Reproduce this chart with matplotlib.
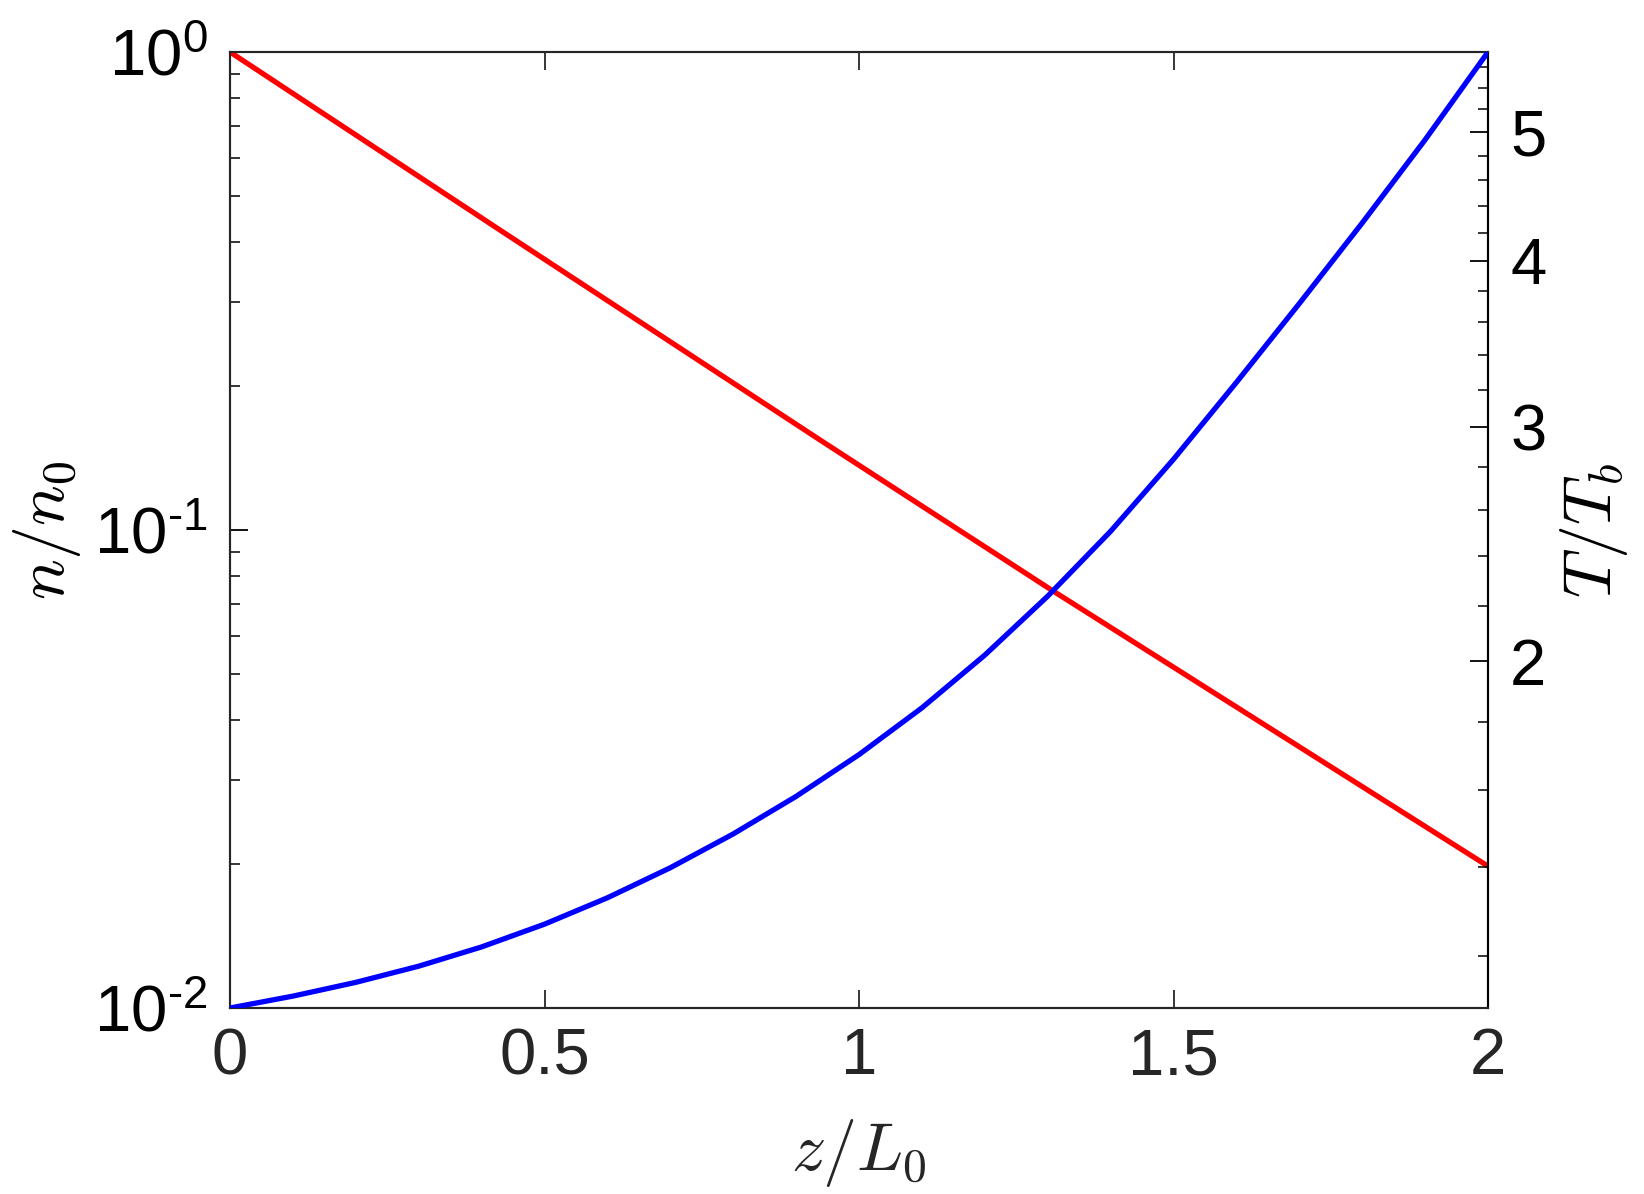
import numpy as np
import matplotlib
matplotlib.use("Agg")
import matplotlib.pyplot as plt
from matplotlib.ticker import FixedLocator, FuncFormatter, MultipleLocator, NullFormatter, LogLocator

# ---- data ----
# density n/n0 (left, log axis)
z_n = [0.0, 0.429, 0.938, 1.304, 2.0]
n_vals = [1.0, 0.4243, 0.1543, 0.0752, 0.0198]

# temperature T/Tb (right, log axis)
z_T = [0.0, 0.1, 0.2, 0.3, 0.4, 0.5, 0.6, 0.7, 0.8, 0.9, 1.0,
       1.1, 1.2, 1.3, 1.4, 1.5, 1.6, 1.7, 1.8, 1.9, 2.0]
T_vals = [1.0975, 1.1203, 1.1473, 1.1799, 1.2199, 1.2689, 1.3282, 1.3991,
          1.4834, 1.5831, 1.7018, 1.8453, 2.0218, 2.2390, 2.5050, 2.8377,
          3.2417, 3.7158, 4.2721, 4.9339, 5.7438]

x_ticks = [0, 0.5, 1, 1.5, 2]
x_ticklabels = ["0", "0.5", "1", "1.5", "2"]
T_ticks = [2, 3, 4, 5]

plt.rcParams['font.family'] = ['Liberation Sans', 'DejaVu Sans']
plt.rcParams['mathtext.fontset'] = 'cm'
plt.rcParams['axes.unicode_minus'] = False

FS = 47
AX_COL = '#262626'


def pow10_label(v, pos):
    e = int(round(np.log10(v)))
    s = str(abs(e))
    if e < 0:
        s = "\u2010" + s  # plain hyphen like the original
    return r"$\mathdefault{10^{%s}}$" % s


fig = plt.figure(figsize=(16.44, 11.94), dpi=100)
ax = fig.add_axes([230 / 1644, (1194 - 1008) / 1194, 1258 / 1644, 956 / 1194])
ax2 = ax.twinx()

ax.plot(z_n, n_vals, color=(1, 0, 0), lw=3.8, solid_capstyle='butt', zorder=3)
ax2.plot(z_T, T_vals, color=(0, 0, 1), lw=3.8, solid_capstyle='butt',
         solid_joinstyle='round', zorder=3)

# left axis
ax.set_xlim(0, 2)
ax.set_yscale('log')
ax.set_ylim(1e-2, 1)
ax.yaxis.set_major_locator(LogLocator(base=10, numticks=10))
ax.yaxis.set_major_formatter(FuncFormatter(pow10_label))
ax.yaxis.set_minor_locator(LogLocator(base=10, subs=np.arange(2, 10), numticks=20))
ax.yaxis.set_minor_formatter(NullFormatter())
ax.set_xticks(x_ticks)
ax.set_xticklabels(x_ticklabels)
ax.tick_params(axis='x', which='major', direction='in', length=13, width=1.3,
               top=True, bottom=True, labelsize=FS, pad=14, colors=AX_COL)
ax.tick_params(axis='y', which='major', direction='in', length=13, width=1.3,
               left=True, right=False, labelsize=FS, pad=16, colors='black')
ax.tick_params(axis='y', which='minor', direction='in', length=7, width=1.1,
               left=True, right=False)

# right axis
ax2.set_yscale('log')
ax2.set_ylim(T_vals[0], T_vals[-1])
ax2.yaxis.set_major_locator(FixedLocator(T_ticks))
ax2.yaxis.set_major_formatter(FuncFormatter(lambda v, p: f"{v:g}"))
ax2.yaxis.set_minor_locator(MultipleLocator(0.2))
ax2.yaxis.set_minor_formatter(NullFormatter())
ax2.tick_params(axis='y', which='major', direction='in', length=13, width=1.3,
                labelsize=FS, pad=16, colors='black')
ax2.tick_params(axis='y', which='minor', direction='in', length=7, width=1.1)

for a in (ax, ax2):
    for s in a.spines.values():
        s.set_linewidth(1.5)
        s.set_color(AX_COL)
ax2.spines['right'].set_color('black')

# labels
ax.set_xlabel(r'$z/L_0$', fontsize=FS + 2)
ax.xaxis.set_label_coords(0.5, (1008 - 1153) / 956)
ax.xaxis.label.set_va('center')
ax.xaxis.label.set_color(AX_COL)

ax.set_ylabel(r'$n/n_0$', fontsize=FS + 2)
ax.yaxis.set_label_coords((47 - 230) / 1258, 0.5)
ax.yaxis.label.set_va('center')

ax2.set_ylabel(r'$T/T_b$', fontsize=FS + 2)
ax2.yaxis.set_label_coords((1594 - 230) / 1258, 0.5)
ax2.yaxis.label.set_va('center')

fig.savefig("out.png", dpi=100)
